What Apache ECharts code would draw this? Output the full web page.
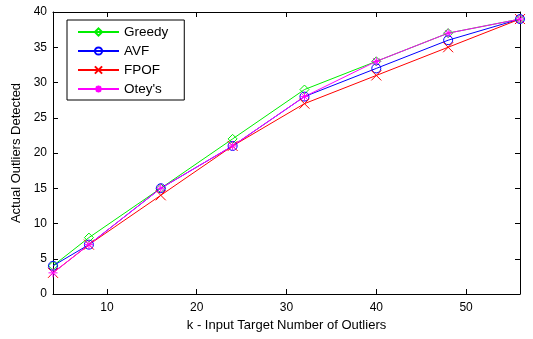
<!DOCTYPE html>
<html>
<head>
<meta charset="utf-8">
<script src="https://cdn.jsdelivr.net/npm/echarts@6/dist/echarts.min.js"></script>
<style>html,body{margin:0;padding:0;background:#fff}#c{width:533px;height:339px}</style>
</head>
<body>
<div id="c"></div>
<script>
var kValues = [4, 8, 16, 24, 32, 40, 48, 56];
var greedy = [4, 8, 15, 22, 29, 33, 37, 39];
var avf    = [4, 7, 15, 21, 28, 32, 36, 39];
var fpof   = [3, 7, 14, 21, 27, 31, 35, 39];
var otey   = [3, 7, 15, 21, 28, 33, 37, 39];
var seriesNames = ['Greedy', 'AVF', 'FPOF', "Otey's"];
var xTicks = [10, 20, 30, 40, 50];

var font = 'Liberation Sans, Arial, sans-serif';
var crossPath = 'path://M0,0L10,10M10,0L0,10';
var starPath = 'path://M5,0L5,10M0,5L10,5M1.5,1.5L8.5,8.5M8.5,1.5L1.5,8.5';

function pairs(arr){ return kValues.map(function(k,i){ return [k, arr[i]]; }); }
function mk(name, data, color, symbol, size){
  return {
    name: name, type: 'line', data: pairs(data),
    symbol: symbol, symbolSize: size, showAllSymbol: true,
    lineStyle: {color: color, width: 1},
    itemStyle: {color: 'rgba(255,255,255,0)', borderColor: color, borderWidth: 1},
    emphasis: {disabled: true}, animation: false
  };
}
var chart = echarts.init(document.getElementById('c'));
var axisLine = {show: true, onZero: false, lineStyle: {color: '#000', width: 1}};
var yTick = {show: true, inside: true, length: 5, lineStyle: {color: '#000'}};
chart.setOption({
  backgroundColor: '#fff',
  animation: false,
  grid: {left: 53, right: 13, top: 12, bottom: 45},
  legend: {
    left: 67, top: 20, orient: 'vertical',
    backgroundColor: '#fff', borderColor: '#000', borderWidth: 1,
    padding: [5, 16, 4, 10], itemWidth: 41, itemHeight: 9, itemGap: 5,
    textStyle: {fontFamily: font, fontSize: 13.5, color: '#000'},
    data: seriesNames
  },
  xAxis: [
    {type: 'value', min: 4, max: 56, position: 'bottom',
      name: 'k - Input Target Number of Outliers', nameLocation: 'middle', nameGap: 24,
      nameTextStyle: {fontFamily: font, fontSize: 13, color: '#000'},
      axisLine: axisLine, splitLine: {show: false},
      axisLabel: {fontFamily: font, fontSize: 12, color: '#000', margin: 8, customValues: xTicks},
      axisTick: {show: true, inside: true, length: 5, lineStyle: {color: '#000'}, customValues: xTicks}},
    {type: 'value', min: 4, max: 56, position: 'top',
      axisLine: axisLine, splitLine: {show: false},
      axisLabel: {show: false},
      axisTick: {show: true, inside: true, length: 5, lineStyle: {color: '#000'}, customValues: xTicks}}
  ],
  yAxis: [
    {type: 'value', min: 0, max: 40, interval: 5, position: 'left',
      name: 'Actual Outliers Detected', nameLocation: 'middle', nameGap: 30,
      nameTextStyle: {fontFamily: font, fontSize: 13, color: '#000'},
      axisLine: axisLine, axisTick: yTick, splitLine: {show: false},
      axisLabel: {fontFamily: font, fontSize: 12, color: '#000', margin: 6}},
    {type: 'value', min: 0, max: 40, interval: 5, position: 'right',
      axisLine: axisLine, axisTick: yTick, splitLine: {show: false},
      axisLabel: {show: false}}
  ],
  series: [
    mk(seriesNames[0], greedy, '#00ee00', 'diamond', 9),
    mk(seriesNames[1], avf, '#0000ff', 'circle', 9),
    mk(seriesNames[2], fpof, '#ff0000', crossPath, 10),
    mk(seriesNames[3], otey, '#ff00ff', starPath, 9)
  ]
});
</script>
</body>
</html>
